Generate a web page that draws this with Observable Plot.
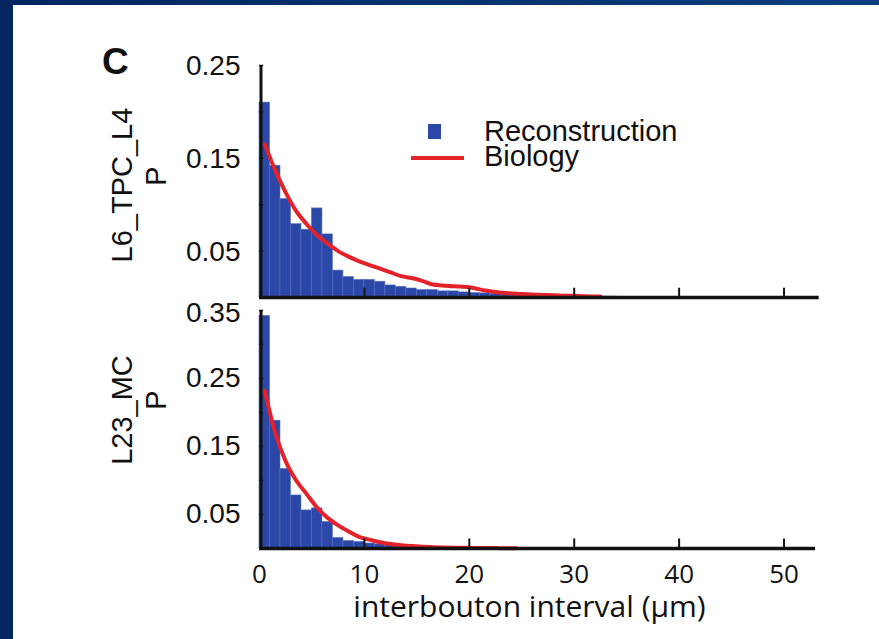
<!DOCTYPE html>
<html><head><meta charset="utf-8">
<script src="https://cdn.jsdelivr.net/npm/d3@7"></script>
<script src="https://cdn.jsdelivr.net/npm/@observablehq/plot@0.6"></script>
<style>
html,body{margin:0;padding:0;background:#fff;}
#page{position:relative;width:879px;height:639px;overflow:hidden;background:#fff;}
#bl{position:absolute;left:0;top:0;width:13px;height:639px;background:#04255f;}
#bt{position:absolute;left:0;top:0;width:879px;height:5px;background:linear-gradient(90deg,#04255f,#0b3f7e);}
.abs{position:absolute;left:0;top:0;}
#charts svg{display:block;}
</style></head><body>
<div id="page">
  <div id="charts" class="abs"></div>
  <svg id="ov" class="abs" width="879" height="639"></svg>
  <div id="bl"></div><div id="bt"></div>
</div>
<script>
// ---- data ----
const panelLabels = ["L6_TPC_L4", "L23_MC"];
const yName = "P";
const xLabel = "interbouton interval (µm)";
const seriesNames = ["Reconstruction", "Biology"];
const binWidth = 1; // µm
const xTickVals = [0, 10, 20, 30, 40, 50];
const xTickMarks = [10, 20, 30, 40, 50];
const yTicksTop = [0.05, 0.10, 0.15, 0.20, 0.25];
const yLabelsTop = [0.05, 0.15, 0.25];
const yTicksBot = [0.05, 0.10, 0.15, 0.20, 0.25, 0.30, 0.35];
const yLabelsBot = [0.05, 0.15, 0.25];
const yLabelsBotTop = [0.35];

// Reconstruction histograms (1 µm bins starting at 0)
const reconTop = [0.210,0.142,0.106,0.079,0.073,0.096,0.068,0.029,0.022,0.019,0.019,0.017,0.013,0.0115,0.0097,0.008,0.008,0.0066,0.0066,0.0055,0.0047,0.0044,0.0037,0.0037,0.003,0.003,0.0025,0.0022,0.002,0.0018,0.0015,0.0012,0.001,0.001,0.0008,0.0007,0.0006,0.0005,0.0004,0.0003];
const reconBot = [0.342,0.188,0.117,0.078,0.056,0.059,0.039,0.0155,0.011,0.0097,0.0073,0.006,0.005,0.004,0.0035,0.003,0.0025,0.002,0.0018,0.0015,0.0012,0.001,0.0009,0.0008,0.0007,0.0006,0.0005,0.0004,0.0003,0.0003];

// Biology curves
const bioTopX = [0.5,1.5,2.5,3.5,4.5,5.5,6.5,7.5,8.5,9.5,10.5,11.5,12.5,13.5,14.5,15.5,16.5,17.5,18.5,19.5,20.5,21.5,22.5,23.5,24.5,25.5,26.5,27.5,28.5,29.5,30.5,31.5,32.5];
const bioTopP = [0.165,0.137,0.113,0.093,0.079,0.067,0.058,0.050,0.044,0.039,0.035,0.031,0.027,0.023,0.021,0.018,0.014,0.013,0.012,0.0115,0.010,0.0075,0.006,0.0048,0.004,0.0035,0.003,0.0026,0.0022,0.0019,0.0016,0.0012,0.001];
const bioBotX = [0.5,1.5,2.5,3.5,4.5,5.5,6.5,7.5,8.5,9.5,10.5,11.5,12.5,13.5,14.5,15.5,16.5,17.5,18.5,19.5,20.5,21.5,22.5,23.5,24.5];
const bioBotP = [0.232,0.170,0.128,0.100,0.080,0.060,0.045,0.034,0.025,0.017,0.013,0.0093,0.0067,0.0049,0.0036,0.0027,0.002,0.0015,0.0012,0.001,0.0008,0.0007,0.0006,0.0005,0.0004];

// ---- styling ----
const blue = "#2b47a7", red = "#e5222a", ink = "#111";
const tickFont = "'Liberation Sans', Arial, sans-serif";
const xFont = "'Open Sans', 'Noto Sans', sans-serif";

const toBins = arr => arr.map((p, i) => ({x0: i * binWidth, x1: (i + 1) * binWidth, p}));
const toLine = (xs, ps) => xs.map((x, i) => ({x, p: ps[i]}));

function panel({bins, bio, yMax, yTicks, axes, height, marginTop, marginBottom, xEnd, extra = []}) {
  return Plot.plot({
    width: 879, height, marginLeft: 259, marginRight: 64, marginTop, marginBottom,
    x: {domain: [0, 53], axis: null},
    y: {domain: [0, yMax], axis: null},
    style: {background: "transparent", overflow: "visible"},
    marks: [
      Plot.rect(bins, {x1: "x0", x2: "x1", y1: 0, y2: "p", fill: blue, stroke: "#5670be", strokeWidth: 0.6}),
      Plot.line(bio, {x: "x", y: "p", stroke: red, strokeWidth: 4, curve: "monotone-x"}),
      Plot.ruleY(yTicks, {x1: 0, x2: 0.4, stroke: ink, strokeWidth: 1.5}),
      Plot.ruleX(xTickMarks, {y1: 0, y2: yMax * 0.04, stroke: ink, strokeWidth: 2}),
      Plot.ruleX([0], {y1: 0, y2: yMax, stroke: ink, strokeWidth: 3, dx: 1.5}),
      Plot.ruleY([0], {x1: 0, x2: xEnd, stroke: ink, strokeWidth: 3.5}),
      ...axes,
      ...extra
    ]
  });
}

const yAxisOpts = {anchor: "left", tickSize: 0, tickPadding: 19, fontSize: 28,
  fontFamily: tickFont, tickFormat: d3.format(".2f"), label: null, fill: ink};

const topPlot = panel({
  bins: toBins(reconTop), bio: toLine(bioTopX, bioTopP), yMax: 0.25, yTicks: yTicksTop,
  height: 302, marginTop: 65, marginBottom: 5, xEnd: 53.35,
  axes: [Plot.axisY(yLabelsTop, {...yAxisOpts, dy: 1})]
});

const botPlot = panel({
  bins: toBins(reconBot), bio: toLine(bioBotX, bioBotP), yMax: 0.35, yTicks: yTicksBot,
  height: 337, marginTop: 8, marginBottom: 91, xEnd: 53,
  axes: [
    Plot.axisY(yLabelsBot, {...yAxisOpts}),
    Plot.axisY(yLabelsBotTop, {...yAxisOpts, dy: 3}),
    Plot.axisX(xTickVals, {anchor: "bottom", tickSize: 0, tickPadding: 16, fontSize: 26,
      fontFamily: xFont, tickFormat: d3.format("d"), label: null, fill: ink})
  ],
  extra: [Plot.text([xLabel], {frameAnchor: "bottom", dy: 68, dx: -8, fontSize: 30, fontFamily: xFont, fill: ink})]
});

const charts = document.getElementById("charts");
charts.appendChild(topPlot);
charts.appendChild(botPlot);

// ---- overlay: panel letter, axis titles, legend ----
const ov = d3.select("#ov").style("font-family", tickFont);
ov.append("text").attr("x", 102).attr("y", 74).attr("font-size", 37).attr("font-weight", "bold").attr("fill", ink).text("C");

const ylab = [[panelLabels[0], 185, 176], [panelLabels[1], 410, 400]];
ylab.forEach(([t, cy, py]) => {
  ov.append("text").attr("transform", `translate(132,${cy}) rotate(-90)`).attr("text-anchor", "middle")
    .attr("font-size", 29).attr("fill", ink).text(t);
  ov.append("text").attr("transform", `translate(166,${py}) rotate(-90)`).attr("text-anchor", "middle")
    .attr("font-size", 29).attr("fill", ink).text(yName);
});

ov.append("rect").attr("x", 428).attr("y", 124).attr("width", 13).attr("height", 15).attr("fill", blue);
ov.append("line").attr("x1", 411).attr("x2", 464).attr("y1", 158).attr("y2", 158).attr("stroke", red).attr("stroke-width", 4);
ov.append("text").attr("x", 484).attr("y", 140.5).attr("font-size", 29).attr("fill", ink).text(seriesNames[0]);
ov.append("text").attr("x", 484).attr("y", 166).attr("font-size", 29).attr("fill", ink).text(seriesNames[1]);
</script>
</body></html>
